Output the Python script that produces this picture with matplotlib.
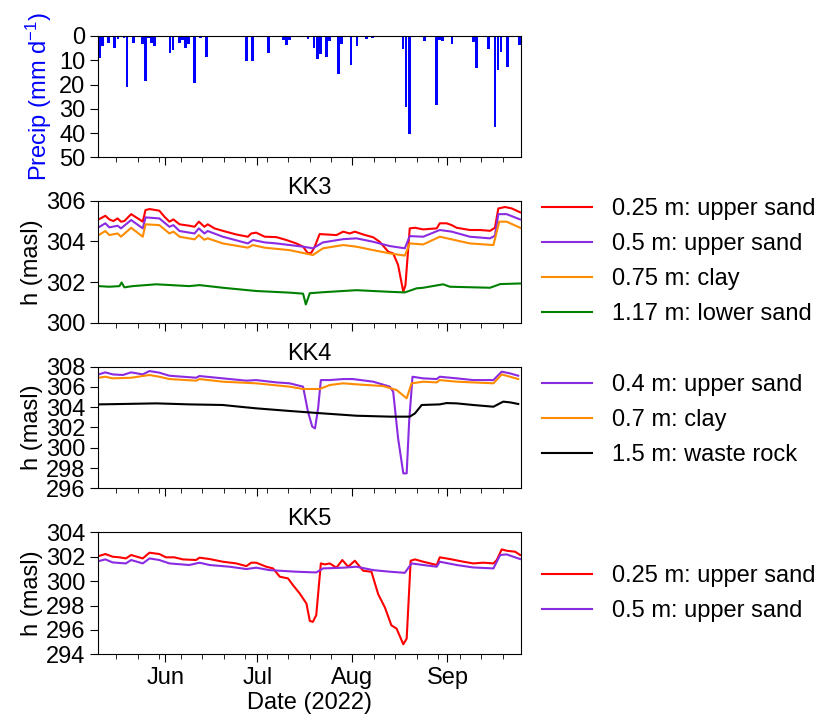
import datetime as dt
import matplotlib
matplotlib.use("Agg")
import matplotlib.pyplot as plt
import matplotlib.dates as mdates

plt.rcParams['font.family'] = ['Liberation Sans', 'DejaVu Sans']
plt.rcParams['font.size'] = 17
plt.rcParams['mathtext.default'] = 'regular'

inicio = dt.datetime(2022, 5, 10)

# precipitacion diaria (dias desde 10 mayo, mm/d)
precip_dias = [0, 1, 3, 5, 6, 8, 9, 11, 14, 15, 16, 17, 18, 23, 24, 26, 27, 28, 29, 31,
               33, 35, 45, 47, 48, 50, 55, 60, 61, 62, 68, 70, 71, 72, 74, 75, 78, 79,
               82, 84, 87, 89, 99, 100, 101, 102, 106, 110, 111, 112, 115, 122, 123,
               127, 129, 130, 131, 133, 137]
precip_mm = [9.2, 4.1, 3.0, 5.1, 1.2, 1.0, 21.0, 2.7, 3.4, 18.5, 0.7, 3.0, 4.1, 7.1, 5.9,
             3.0, 1.6, 5.1, 3.4, 19.2, 0.7, 8.8, 0.5, 0.4, 10.3, 10.3, 6.9, 1.5, 3.7, 1.6,
             1.4, 4.8, 9.5, 7.6, 8.8, 2.1, 15.8, 3.4, 12.0, 4.3, 1.2, 0.7, 5.4, 29.1, 40.5,
             0.5, 2.1, 28.4, 1.6, 1.9, 3.4, 2.3, 13.3, 5.5, 37.6, 13.9, 6.7, 12.8, 3.7]

# KK3
kk3_025_dias = [0.2, 2.4, 3.7, 5.0, 6.4, 7.5, 8.6, 10.8, 13.0, 14.6, 15.5, 16.8, 20.0, 21.7,
                23.3, 24.6, 26.6, 29.8, 31.5, 32.9, 34.7, 35.8, 38.0, 40.7, 45.1, 48.9,
                50.0, 51.6, 54.4, 58.2, 61.4, 64.7, 66.9, 68.5, 69.6, 70.7, 72.3, 74.5,
                77.8, 80.0, 82.1, 83.8, 86.5, 89.8, 91.9, 94.7, 96.3, 97.9, 99.6, 100.3,
                101.7, 103.4, 106.1, 110.5, 111.5, 113.7, 115.4, 117.0, 121.3, 124.6,
                127.9, 129.5, 130.6, 132.8, 135.0, 137.7]
kk3_025 = [305.08, 305.26, 305.08, 305.00, 305.13, 304.97, 305.00, 305.34, 305.13, 304.97,
           305.54, 305.59, 305.51, 305.21, 304.97, 305.08, 304.84, 304.77, 304.72, 304.97,
           304.72, 304.84, 304.64, 304.52, 304.34, 304.23, 304.39, 304.43, 304.23, 304.21,
           304.07, 303.90, 303.74, 303.41, 303.44, 303.74, 304.36, 304.34, 304.31, 304.48,
           304.39, 304.48, 304.34, 304.20, 303.98, 303.49, 303.41, 302.84, 301.52, 301.85,
           304.64, 304.67, 304.59, 304.64, 304.89, 304.89, 304.80, 304.67, 304.56, 304.56,
           304.52, 304.67, 305.62, 305.69, 305.62, 305.43]

kk3_05_dias = [0.2, 2.4, 3.7, 6.4, 7.5, 10.8, 14.6, 15.5, 20.0, 23.3, 24.6, 26.6, 31.5,
               32.9, 34.7, 35.8, 40.7, 48.9, 50.5, 54.4, 58.2, 66.9, 70.1, 73.4, 80.0,
               84.3, 89.8, 95.2, 100.1, 101.7, 106.1, 111.5, 115.4, 121.3, 127.9, 129.5,
               130.6, 133.3, 137.7]
kk3_05 = [304.69, 304.89, 304.69, 304.77, 304.64, 305.05, 304.64, 305.18, 305.13, 304.72,
          304.80, 304.51, 304.39, 304.64, 304.39, 304.51, 304.23, 303.90, 304.07, 303.95,
          303.90, 303.74, 303.66, 303.95, 304.11, 304.15, 303.98, 303.77, 303.66, 304.26,
          304.23, 304.56, 304.48, 304.23, 304.15, 304.28, 305.34, 305.34, 305.08]

kk3_075_dias = [0.2, 2.4, 3.7, 6.4, 7.5, 10.8, 14.6, 15.5, 20.0, 23.3, 24.6, 26.6, 31.5,
                32.9, 34.7, 35.8, 40.7, 48.9, 50.5, 54.4, 62.5, 70.1, 73.4, 80.0, 84.3,
                89.8, 95.2, 100.1, 101.7, 106.1, 111.5, 115.4, 121.3, 129.0, 130.9,
                133.3, 137.7]
kk3_075 = [304.31, 304.51, 304.31, 304.39, 304.23, 304.67, 304.23, 304.84, 304.80, 304.39,
           304.48, 304.23, 304.10, 304.31, 304.08, 304.15, 303.90, 303.69, 303.82, 303.69,
           303.57, 303.33, 303.66, 303.82, 303.74, 303.57, 303.41, 303.30, 303.90, 303.85,
           304.23, 304.10, 303.90, 303.82, 304.97, 304.97, 304.67]

kk3_117_dias = [0.2, 3.7, 7.0, 7.7, 8.6, 11.3, 19.0, 29.8, 33.1, 40.7, 51.6, 62.5, 66.9,
                67.8, 69.1, 73.4, 84.3, 95.2, 100.1, 103.9, 106.1, 112.6, 114.8, 127.9,
                131.2, 137.7]
kk3_117 = [301.80, 301.77, 301.80, 301.98, 301.74, 301.80, 301.89, 301.80, 301.85, 301.72,
           301.56, 301.48, 301.43, 300.90, 301.45, 301.50, 301.60, 301.52, 301.49, 301.69,
           301.72, 301.89, 301.77, 301.72, 301.90, 301.93]

# KK4
kk4_04_dias = [0.2, 2.4, 4.8, 8.1, 10.8, 14.6, 16.8, 20.0, 23.3, 27.7, 32.0, 33.1, 36.4,
               40.7, 48.4, 51.6, 58.2, 62.5, 66.9, 68.5, 69.9, 70.8, 71.8, 72.7, 75.6,
               80.0, 83.2, 89.8, 95.2, 96.3, 97.9, 99.6, 100.7, 101.5, 102.6, 106.1, 110.5,
               111.5, 117.0, 122.4, 129.0, 131.7, 134.4, 137.1]
kk4_04 = [307.24, 307.44, 307.24, 307.18, 307.44, 307.24, 307.57, 307.41, 307.11, 307.01,
          306.91, 307.08, 306.98, 306.85, 306.62, 306.68, 306.45, 306.36, 306.03, 303.56,
          302.08, 301.91, 303.89, 306.68, 306.68, 306.78, 306.78, 306.52, 306.03, 305.53,
          300.93, 297.47, 297.47, 302.57, 307.01, 306.85, 306.78, 307.01, 306.85, 306.68,
          306.68, 307.51, 307.34, 307.11]

kk4_07_dias = [0.2, 2.4, 4.8, 10.8, 16.8, 20.0, 23.3, 32.0, 33.1, 40.7, 51.6, 62.5, 66.9,
               72.3, 75.6, 80.0, 84.3, 93.0, 97.4, 100.7, 102.3, 106.1, 110.5, 111.5,
               117.0, 129.0, 131.7, 137.1]
kk4_07 = [306.91, 307.01, 306.85, 306.91, 307.18, 307.01, 306.78, 306.62, 306.78, 306.52,
          306.36, 306.03, 305.80, 305.80, 306.19, 306.36, 306.26, 306.09, 305.70, 304.88,
          306.36, 306.52, 306.45, 306.68, 306.52, 306.36, 307.24, 306.78]

kk4_15_dias = [0.2, 8.1, 19.0, 29.8, 40.7, 46.2, 51.6, 62.5, 73.4, 84.3, 95.2, 101.7,
               103.4, 105.6, 111.5, 113.7, 117.0, 122.4, 129.0, 132.2, 134.4, 137.1]
kk4_15 = [304.28, 304.32, 304.38, 304.28, 304.22, 304.05, 303.89, 303.63, 303.39, 303.16,
          303.07, 303.07, 303.39, 304.22, 304.28, 304.41, 304.38, 304.22, 304.05, 304.55,
          304.48, 304.32]

# KK5
kk5_025_dias = [0.2, 2.4, 4.8, 7.0, 9.1, 10.8, 14.6, 16.8, 20.0, 22.2, 24.9, 27.7, 32.0,
                33.1, 36.4, 40.7, 45.1, 48.4, 50.0, 51.6, 54.9, 57.1, 59.3, 62.0, 63.6,
                65.8, 68.0, 69.1, 70.1, 71.2, 72.7, 74.0, 75.6, 77.8, 79.7, 81.6, 83.8,
                86.5, 89.2, 91.4, 93.6, 95.7, 97.4, 99.6, 100.7, 102.0, 103.4, 106.1, 110.5,
                111.5, 114.8, 119.2, 122.4, 125.7, 129.0, 130.1, 131.7, 133.3, 136.1, 137.7]
kk5_025 = [302.05, 302.22, 302.00, 301.95, 301.86, 302.14, 301.86, 302.33, 302.22, 301.95,
           301.95, 301.78, 301.73, 301.92, 301.81, 301.59, 301.45, 301.23, 301.51, 301.51,
           301.18, 301.04, 300.36, 300.22, 299.67, 298.99, 298.16, 296.74, 296.66, 297.21,
           301.45, 301.37, 301.45, 301.10, 301.73, 301.18, 301.67, 300.85, 300.77, 298.93,
           297.84, 296.38, 296.11, 294.82, 295.29, 301.67, 301.78, 301.59, 301.32, 301.95,
           301.81, 301.59, 301.45, 301.51, 301.45, 301.73, 302.60, 302.49, 302.41, 302.14]

kk5_05_dias = [0.2, 2.4, 4.8, 9.1, 10.8, 14.6, 16.8, 20.0, 23.3, 29.8, 33.1, 36.4, 42.9,
               48.4, 51.6, 56.0, 64.7, 71.2, 73.4, 80.0, 84.3, 89.8, 95.2, 100.1, 102.3,
               106.1, 110.5, 111.5, 117.0, 122.4, 129.0, 131.2, 133.3, 137.7]
kk5_05 = [301.64, 301.78, 301.53, 301.45, 301.73, 301.45, 301.86, 301.73, 301.45, 301.32,
          301.51, 301.32, 301.18, 300.99, 301.10, 300.90, 300.77, 300.71, 301.04, 301.10,
          301.18, 300.90, 300.77, 300.68, 301.45, 301.32, 301.18, 301.59, 301.32, 301.12,
          301.04, 302.14, 302.19, 301.81]


def a_fechas(dias):
    return [inicio + dt.timedelta(days=d) for d in dias]


fig = plt.figure(figsize=(8.27, 7.21), dpi=100)
izq, ancho = 0.1185, 0.5115
ax_p = fig.add_axes([izq, 0.7816, ancho, 0.1685])
ax3 = fig.add_axes([izq, 0.5524, ancho, 0.1692], sharex=ax_p)
ax4 = fig.add_axes([izq, 0.3228, ancho, 0.1686], sharex=ax_p)
ax5 = fig.add_axes([izq, 0.0925, ancho, 0.1692], sharex=ax_p)

# precipitacion (eje invertido)
x_precip = [inicio + dt.timedelta(days=d, hours=12) for d in precip_dias]
ax_p.bar(x_precip, precip_mm, width=0.9, color='blue')
ax_p.set_ylim(50, 0)
ax_p.set_yticks([0, 10, 20, 30, 40, 50])
ax_p.set_ylabel('Precip (mm d$^{-1}$)', color='blue')

lw = 1.5
ax3.plot(a_fechas(kk3_025_dias), kk3_025, color='red', lw=lw, label='0.25 m: upper sand')
ax3.plot(a_fechas(kk3_05_dias), kk3_05, color='blueviolet', lw=lw, label='0.5 m: upper sand')
ax3.plot(a_fechas(kk3_075_dias), kk3_075, color='darkorange', lw=lw, label='0.75 m: clay')
ax3.plot(a_fechas(kk3_117_dias), kk3_117, color='green', lw=lw, label='1.17 m: lower sand')
ax3.set_ylim(300, 306)
ax3.set_yticks([300, 302, 304, 306])
ax3.set_title('KK3', fontsize=17, pad=5)

ax4.plot(a_fechas(kk4_04_dias), kk4_04, color='blueviolet', lw=lw, label='0.4 m: upper sand')
ax4.plot(a_fechas(kk4_07_dias), kk4_07, color='darkorange', lw=lw, label='0.7 m: clay')
ax4.plot(a_fechas(kk4_15_dias), kk4_15, color='black', lw=lw, label='1.5 m: waste rock')
ax4.set_ylim(296, 308)
ax4.set_yticks(range(296, 309, 2))
ax4.set_title('KK4', fontsize=17, pad=5)

ax5.plot(a_fechas(kk5_025_dias), kk5_025, color='red', lw=lw, label='0.25 m: upper sand')
ax5.plot(a_fechas(kk5_05_dias), kk5_05, color='blueviolet', lw=lw, label='0.5 m: upper sand')
ax5.set_ylim(294, 304)
ax5.set_yticks(range(294, 305, 2))
ax5.set_title('KK5', fontsize=17, pad=5)
ax5.set_xlabel('Date (2022)', labelpad=2)

for ax, yleg in [(ax3, 0.5), (ax4, 0.56), (ax5, 0.5)]:
    ax.set_ylabel('h (masl)', labelpad=2)
    ax.legend(loc='center left', bbox_to_anchor=(1.0, yleg), frameon=False,
              handlelength=2.1, handletextpad=0.85, labelspacing=0.55)

ax_p.set_xlim(inicio, dt.datetime(2022, 9, 25))
ax_p.xaxis.set_major_locator(mdates.MonthLocator())
ax_p.xaxis.set_major_formatter(mdates.DateFormatter('%b'))
ax_p.xaxis.set_minor_locator(mdates.WeekdayLocator(byweekday=mdates.MO))
for ax in [ax_p, ax3, ax4]:
    ax.tick_params(labelbottom=False)
for ax in [ax_p, ax3, ax4, ax5]:
    ax.tick_params(which='major', length=6, pad=3)
    ax.tick_params(which='minor', length=3.5)

fig.savefig('out.png', dpi=100)
